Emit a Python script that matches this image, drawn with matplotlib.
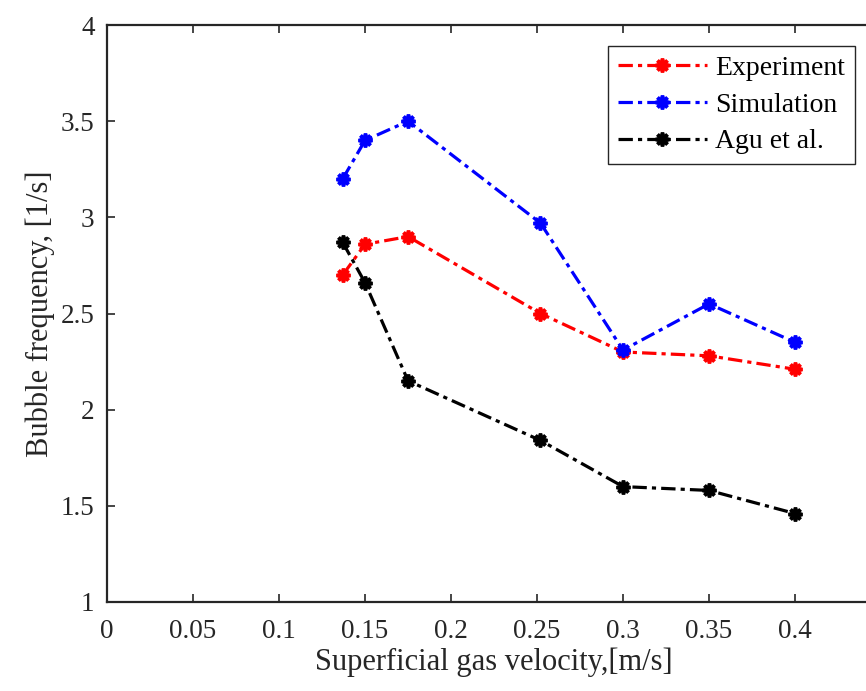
import matplotlib.pyplot as plt

# superficial gas velocity [m/s]
velocity = [0.137, 0.15, 0.175, 0.252, 0.3, 0.35, 0.4]

experiment = [2.70, 2.86, 2.90, 2.50, 2.30, 2.28, 2.21]
simulation = [3.20, 3.40, 3.50, 2.97, 2.31, 2.55, 2.35]
agu = [2.87, 2.66, 2.15, 1.84, 1.60, 1.58, 1.46]

series = [("Experiment", experiment, "#ff0000"),
          ("Simulation", simulation, "#0000ff"),
          ("Agu et al.", agu, "#000000")]

plt.rcParams['font.family'] = ['Liberation Serif', 'DejaVu Serif']
dark = "#262626"

fig = plt.figure(figsize=(8.66, 6.91), dpi=100)
ax = fig.add_axes([0.1236, 0.1288, 0.8938, 0.835])

for name, vals, col in series:
    ax.plot(velocity, vals, color=col, linestyle=(0, (4.5, 1.6, 1.3, 1.6)), linewidth=2.3,
            marker=(8, 2, 0), markersize=10, markeredgewidth=2.6, label=name)

ax.set_xlim(0, 0.45)
ax.set_ylim(1, 4)
ax.set_xticks([0, 0.05, 0.1, 0.15, 0.2, 0.25, 0.3, 0.35, 0.4])
ax.set_xticklabels(["0", "0.05", "0.1", "0.15", "0.2", "0.25", "0.3", "0.35", "0.4"])
ax.set_yticks([1, 1.5, 2, 2.5, 3, 3.5, 4])
ax.set_yticklabels(["1", "1.5", "2", "2.5", "3", "3.5", "4"])

ax.tick_params(direction='in', length=6, width=1.2, colors=dark, labelsize=19.5,
               top=True, right=False)
ax.tick_params(axis='x', pad=12)
ax.tick_params(axis='y', pad=9)
for s in ['left', 'bottom', 'top']:
    ax.spines[s].set_color(dark)
    ax.spines[s].set_linewidth(1.6)
ax.spines['right'].set_visible(False)

ax.set_xlabel("Superficial gas velocity,[m/s]", fontsize=22, color=dark, labelpad=3)
ax.set_ylabel("Bubble frequency, [1/s]", fontsize=22, color=dark, labelpad=4)

leg = ax.legend(loc='upper right', bbox_to_anchor=(0.966, 0.9636), fontsize=20,
                handlelength=3.2, fancybox=False, framealpha=1, borderpad=0.35,
                labelspacing=0.4, handletextpad=0.3, borderaxespad=0)
leg.get_frame().set_edgecolor(dark)
leg.get_frame().set_linewidth(1.0)

fig.savefig("out.png", dpi=100)
